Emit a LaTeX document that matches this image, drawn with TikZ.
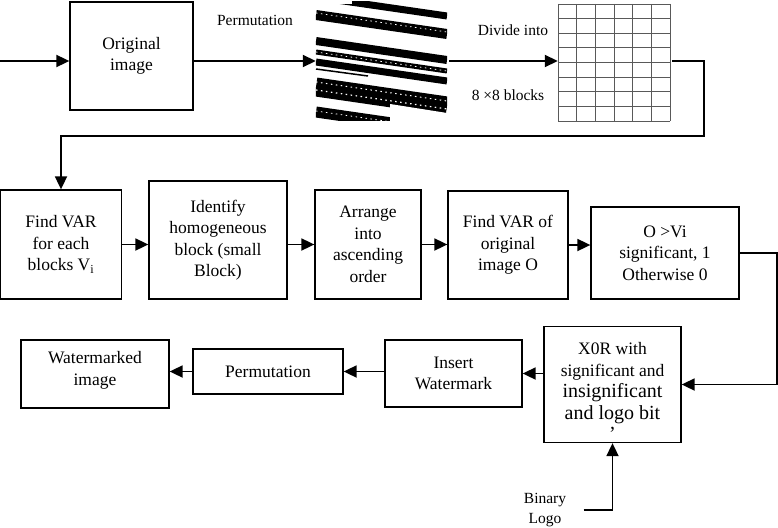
\documentclass[tikz,border=0pt]{standalone}
\usepackage{fontspec}
\setmainfont{Liberation Serif}
\usetikzlibrary{arrows.meta}
\tikzset{
  box/.style={draw, line width=1.3pt, align=center, inner sep=2pt,
    font=\fontsize{17.5}{21.5}\selectfont},
  lbl/.style={align=center, font=\fontsize{15.5}{20}\selectfont},
  arr/.style={line width=1.8pt, -{Triangle[length=13pt,width=12pt]}},
  gridline/.style={black!65, line width=0.8pt},
  dots/.style={white, line width=#1, dash pattern=on 1.5pt off 3.5pt},
}
\begin{document}
\begin{tikzpicture}[x=1pt, y=-1pt]
  \useasboundingbox (0,0) rectangle (778,527);
  % top row
  \node [box, minimum width=123pt, minimum height=108pt] (orig) at (131.5,56) {Original\\image};
  \node [minimum width=131pt, minimum height=118pt, inner sep=0pt] (pimg) at (381.5,61) {};
  \begin{scope}
    \clip (pimg.north west) rectangle (pimg.south east);
    \foreach \y/\w in {-3/7, 15/10, 41/8, 52/5, 62/7, 87/19, 112/11}
      \draw [line width=\w pt] (316,\y) -- (447,\y+19);
    \draw [line width=1.5pt] (316,69) -- (368,76);
    \draw [dots=0.8pt] (316,13) -- (447,32);
    \draw [dots=0.8pt] (316,52) -- (447,71);
    \draw [dots=1pt] (316,82) -- (447,101);
    \draw [dots=1.2pt] (316,90) -- (447,109);
    \draw [dots=0.8pt] (316,111) -- (447,130);
    \fill [white] (390,104) -- (447,113) -- (447,125) -- (390,125) -- cycle;
    \fill [white] (316,-2) -- (352,-2) -- (352,4) -- (316,4) -- cycle;
  \end{scope}
  \node [minimum width=112pt, minimum height=117pt, inner sep=0pt] (grid) at (614,62.5) {};
  \foreach \i in {0,...,6}
    \draw [gridline] (558+\i*18.667,4) -- (558+\i*18.667,121);
  \foreach \j in {0,...,8}
    \draw [gridline] (558,4+\j*14.625) -- (670,4+\j*14.625);
  \node [lbl] (plbl) at (255,20) {Permutation};
  \node [lbl] (dlbl) at (513,30) {Divide into};
  \node [lbl] (blbl) at (508,95) {8 ×8 blocks};
  % middle row
  \node [box, minimum width=121pt, minimum height=109pt] (var) at (61,244.5) {Find VAR\\for each\\blocks V\textsubscript{i}};
  \node [box, minimum width=138pt, minimum height=118pt] (homog) at (218,240) {Identify\\homogeneous\\block (small\\Block)};
  \node [box, minimum width=106pt, minimum height=109pt] (arrange) at (368,244.5) {Arrange\\into\\ascending\\order};
  \node [box, minimum width=120pt, minimum height=108pt] (varo) at (508,245) {Find VAR of\\original\\image O};
  \node [box, minimum width=148pt, minimum height=92pt] (cmp) at (665,253) {O >Vi\\significant, 1\\Otherwise 0};
  % bottom row
  \node [box, minimum width=137pt, minimum height=109pt] (xor) at (612.5,384.5) {\rule{0pt}{26pt}X0R with\\significant and\\{\fontsize{20}{23}\selectfont insignificant}\\{\fontsize{20}{23}\selectfont and logo bit}\\{\fontsize{20}{23}\selectfont ’}};
  \node [box, minimum width=137pt, minimum height=67pt] (insert) at (453.5,373.5) {Insert\\Watermark};
  \node [box, minimum width=150pt, minimum height=45pt] (permb) at (268,371.5) {Permutation};
  \node [box, minimum width=148pt, minimum height=68pt] (wm) at (95,374) {Watermarked\\image\\[-10pt]~};
  \node [lbl] (logo) at (545,510) {Binary\\Logo};
  % connectors
  \coordinate (in) at (0,61);
  \coordinate (bend) at (704,136);
  \draw [arr] (in) -- (in -| orig.west);
  \draw [arr] (in -| orig.east) -- (in -| pimg.west);
  \draw [arr] ([xshift=2pt]in -| pimg.east) -- (in -| grid.west);
  \draw [arr] ([xshift=2pt]in -| grid.east) -| (bend) -| (var.north);
  \draw [arr] (var.east) -- (var.east -| homog.west);
  \draw [arr] (arrange.west -| homog.east) -- (arrange.west);
  \draw [arr] (arrange.east) -- (arrange.east -| varo.west);
  \draw [arr] (varo.east) -- (varo.east -| cmp.west);
  \draw [arr] (cmp.east) -- ++(37,0) |- (xor.east);
  \draw [arr] (insert.east -| xor.west) -- (insert.east);
  \draw [arr] (permb.east -| insert.west) -- (permb.east);
  \draw [arr] (permb.west) -- (permb.west -| wm.east);
  \draw [arr] ([xshift=14pt]logo.east) -| (xor.south);
\end{tikzpicture}
\end{document}
